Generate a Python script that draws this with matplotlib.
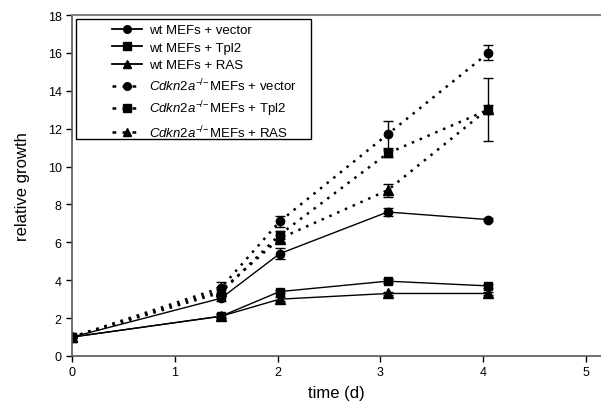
import matplotlib
matplotlib.use("Agg")
import matplotlib.pyplot as plt
from matplotlib.lines import Line2D
from matplotlib.patches import Rectangle

plt.rcParams['font.family'] = ['Liberation Sans', 'DejaVu Sans']
plt.rcParams['mathtext.fontset'] = 'custom'
plt.rcParams['mathtext.rm'] = 'Liberation Sans'
plt.rcParams['mathtext.it'] = 'Liberation Sans:italic'

time = [0, 1.45, 2.02, 3.07, 4.05]

labels = [
    "wt MEFs + vector",
    "wt MEFs + Tpl2",
    "wt MEFs + RAS",
    r"$\mathit{Cdkn2a}^{-\!/\!-}$MEFs + vector",
    r"$\mathit{Cdkn2a}^{-\!/\!-}$MEFs + Tpl2",
    r"$\mathit{Cdkn2a}^{-\!/\!-}$MEFs + RAS",
]

wt_vector = [1.0, 3.05, 5.4, 7.6, 7.2]
wt_tpl2 = [1.0, 2.1, 3.4, 3.95, 3.7]
wt_ras = [1.0, 2.1, 3.0, 3.3, 3.3]
ko_vector = [1.0, 3.6, 7.1, 11.7, 16.0]
ko_tpl2 = [1.0, 3.35, 6.4, 10.7, 13.0]
ko_ras = [1.0, 3.45, 6.2, 8.75, 13.05]

wt_vector_err = [0.0, 0.15, 0.3, 0.2, 0.1]
wt_tpl2_err = [0.0, 0.1, 0.1, 0.1, 0.1]
wt_ras_err = [0.0, 0.1, 0.1, 0.1, 0.1]
ko_vector_err = [0.0, 0.3, 0.3, 0.7, 0.4]
ko_tpl2_err = [0.0, 0.2, 0.2, 0.2, 1.65]
ko_ras_err = [0.0, 0.2, 0.2, 0.35, 0.2]

series = [wt_vector, wt_tpl2, wt_ras, ko_vector, ko_tpl2, ko_ras]
errors = [wt_vector_err, wt_tpl2_err, wt_ras_err, ko_vector_err, ko_tpl2_err, ko_ras_err]
markers = ['o', 's', '^', 'o', 's', '^']
msizes = [6, 6, 6.5, 6, 6, 6.5]
dot = (0, (1.0, 2.4))
styles = ['-', '-', '-', dot, dot, dot]
widths = [1.0, 1.0, 1.0, 1.8, 1.8, 1.8]

fig = plt.figure(figsize=(6.01, 4.10), dpi=100)
ax = fig.add_axes([72/601, 1 - 357/410, 1 - 72/601, (357 - 16)/410])

handles = []
for y, e, m, ms, ls, lw, lab in zip(series, errors, markers, msizes, styles, widths, labels):
    ax.errorbar(time, y, yerr=e, color='black', marker=m, markersize=ms,
                linestyle=ls, linewidth=lw, elinewidth=1.0, capsize=3.5,
                capthick=1.0)
    hls = ls if ls == '-' else (0, (1.5, 2.5))
    handles.append(Line2D([], [], color='black', marker=m, markersize=ms - 0.5,
                          linestyle=hls, linewidth=1.3 if ls == '-' else 1.8, label=lab))

ax.set_xlim(0, (601 - 72) / 102.8)
ax.set_ylim(0, 18)
ax.set_xticks([0, 1, 2, 3, 4, 5])
ax.set_yticks(range(0, 19, 2))
ax.tick_params(direction='out', length=4, width=1, labelsize=9, colors='black')
ax.spines['right'].set_visible(False)
ax.spines['top'].set_color('#808080')
ax.spines['top'].set_linewidth(1.5)
ax.spines['left'].set_color('#555555')
ax.spines['bottom'].set_color('#555555')
ax.spines['left'].set_linewidth(1.2)
ax.spines['bottom'].set_linewidth(1.2)

ax.set_xlabel('time (d)', fontsize=12, labelpad=5)
ax.set_ylabel('relative growth', fontsize=12, labelpad=13)

# legend frame
fig.patches.append(Rectangle((76/601, 1 - 140/410), 235/601, 120/410,
                             transform=fig.transFigure, fill=False,
                             edgecolor='black', linewidth=1.0, zorder=5))

leg = fig.legend(handles=handles, loc='upper left',
                 bbox_to_anchor=(112/601, 1 - 25/410), borderaxespad=0,
                 fontsize=9.5, frameon=False, handlelength=2.3,
                 labelspacing=0.4, borderpad=0, handletextpad=0.5)

fig.savefig('out.png', dpi=100)
